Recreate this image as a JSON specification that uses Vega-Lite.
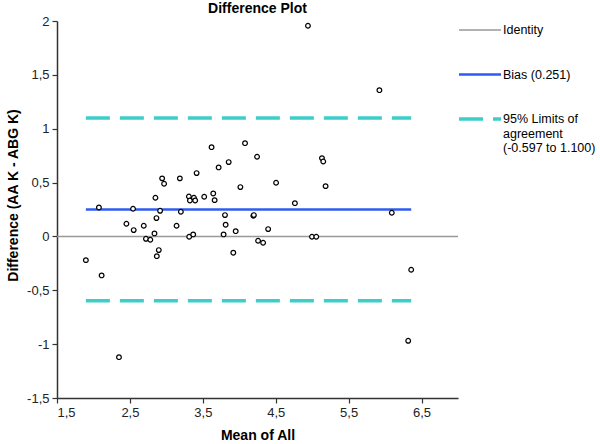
{
  "$schema": "https://vega.github.io/schema/vega-lite/v6.json",
  "width": 401,
  "height": 377,
  "autosize": {"type": "none"},
  "padding": {"left": 57, "top": 21, "right": 142, "bottom": 46},
  "background": "white",
  "title": {"text": "Difference Plot", "fontSize": 14, "fontWeight": "bold", "font": "Liberation Sans", "offset": -3, "dy": 5, "anchor": "middle", "color": "black"},
  "config": {
    "font": "Liberation Sans",
    "view": {"stroke": null},
    "axis": {
      "grid": false,
      "domainColor": "#333333",
      "domainWidth": 1.5,
      "tickColor": "#333333",
      "tickSize": 5,
      "tickWidth": 1.2,
      "labelColor": "#222222",
      "labelFontSize": 13,
      "labelPadding": 3,
      "titleFontSize": 14,
      "titleFontWeight": "bold",
      "titleColor": "black"
    }
  },
  "datasets": {
    "points": [
      {"mean": 2.075, "diff": 0.269},
      {"mean": 1.896, "diff": -0.22},
      {"mean": 2.112, "diff": -0.362},
      {"mean": 2.543, "diff": 0.257},
      {"mean": 2.452, "diff": 0.118},
      {"mean": 2.552, "diff": 0.059},
      {"mean": 2.69, "diff": 0.099},
      {"mean": 2.72, "diff": -0.022},
      {"mean": 2.78, "diff": -0.031},
      {"mean": 2.837, "diff": 0.028},
      {"mean": 2.864, "diff": 0.17},
      {"mean": 2.85, "diff": 0.359},
      {"mean": 2.914, "diff": 0.238},
      {"mean": 2.896, "diff": -0.127},
      {"mean": 2.869, "diff": -0.183},
      {"mean": 2.942, "diff": 0.539},
      {"mean": 2.969, "diff": 0.489},
      {"mean": 3.185, "diff": 0.539},
      {"mean": 3.14, "diff": 0.099},
      {"mean": 3.199, "diff": 0.229},
      {"mean": 3.309, "diff": 0.371},
      {"mean": 3.323, "diff": 0.334},
      {"mean": 3.378, "diff": 0.359},
      {"mean": 3.395, "diff": 0.334},
      {"mean": 3.313, "diff": -0.003},
      {"mean": 3.368, "diff": 0.019},
      {"mean": 3.415, "diff": 0.588},
      {"mean": 3.519, "diff": 0.368},
      {"mean": 3.62, "diff": 0.829},
      {"mean": 3.717, "diff": 0.641},
      {"mean": 3.643, "diff": 0.399},
      {"mean": 3.662, "diff": 0.337},
      {"mean": 3.855, "diff": 0.69},
      {"mean": 4.079, "diff": 0.866},
      {"mean": 4.015, "diff": 0.458},
      {"mean": 3.804, "diff": 0.198},
      {"mean": 3.813, "diff": 0.109},
      {"mean": 3.785, "diff": 0.019},
      {"mean": 3.951, "diff": 0.049},
      {"mean": 3.918, "diff": -0.151},
      {"mean": 4.193, "diff": 0.192},
      {"mean": 4.2, "diff": 0.198},
      {"mean": 4.244, "diff": 0.74},
      {"mean": 4.258, "diff": -0.04},
      {"mean": 4.327, "diff": -0.059},
      {"mean": 4.396, "diff": 0.068},
      {"mean": 4.505, "diff": 0.498},
      {"mean": 4.763, "diff": 0.309},
      {"mean": 5.134, "diff": 0.727},
      {"mean": 5.152, "diff": 0.696},
      {"mean": 5.184, "diff": 0.467},
      {"mean": 4.997, "diff": -0.003},
      {"mean": 5.056, "diff": -0.003},
      {"mean": 6.092, "diff": 0.22},
      {"mean": 6.358, "diff": -0.309},
      {"mean": 4.942, "diff": 1.956},
      {"mean": 5.922, "diff": 1.358},
      {"mean": 2.35, "diff": -1.121},
      {"mean": 6.317, "diff": -0.969}
    ],
    "lines": [
      {"series": "Identity", "x1": 1.5, "x2": 7, "y": 0},
      {"series": "Bias (0.251)", "x1": 1.896, "x2": 6.358, "y": 0.251},
      {"series": "95% Limits of agreement (-0.597 to 1.100)", "x1": 1.896, "x2": 6.358, "y": 1.1},
      {"series": "95% Limits of agreement (-0.597 to 1.100)", "x1": 1.896, "x2": 6.358, "y": -0.597}
    ]
  },
  "layer": [
    {
      "data": {"name": "lines"},
      "mark": {"type": "rule"},
      "encoding": {
        "x": {"field": "x1", "type": "quantitative",
          "scale": {"domain": [1.5, 7], "nice": false, "zero": false},
          "axis": {"values": [1.5, 2.5, 3.5, 4.5, 5.5, 6.5], "labelExpr": "replace(toString(datum.value), '.', ',')", "title": "Mean of All", "titleY": 37, "titleBaseline": "middle"}},
        "x2": {"field": "x2"},
        "y": {"field": "y", "type": "quantitative",
          "scale": {"domain": [-1.5, 2], "nice": false, "zero": false},
          "axis": {"values": [-1.5, -1, -0.5, 0, 0.5, 1, 1.5, 2], "labelExpr": "replace(toString(datum.value), '.', ',')", "title": "Difference (AA K - ABG K)", "titleX": -44, "titleY": 174, "titleBaseline": "middle"}},
        "color": {"field": "series", "type": "nominal",
          "scale": {"domain": ["Identity", "Bias (0.251)", "95% Limits of agreement (-0.597 to 1.100)"], "range": ["#999999", "#2e5cf2", "#3ecec9"]},
          "legend": {"orient": "none", "legendX": 400, "legendY": -13, "title": null, "symbolType": "stroke", "symbolSize": 1764, "labelFontSize": 12.5, "labelColor": "black", "labelOffset": 0, "labelLimit": 300, "padding": 0, "rowPadding": 15,
            "labelExpr": "datum.label == '95% Limits of agreement (-0.597 to 1.100)' ? ['95% Limits of', 'agreement', '(-0.597 to 1.100)'] : datum.label"}},
        "strokeDash": {"field": "series", "type": "nominal",
          "scale": {"domain": ["Identity", "Bias (0.251)", "95% Limits of agreement (-0.597 to 1.100)"], "range": [[1, 0], [1, 0], [24, 10]]}},
        "strokeWidth": {"field": "series", "type": "nominal",
          "scale": {"domain": ["Identity", "Bias (0.251)", "95% Limits of agreement (-0.597 to 1.100)"], "range": [1.5, 3.5, 3.5]}}
      }
    },
    {
      "data": {"name": "points"},
      "mark": {"type": "point", "shape": "circle", "filled": true, "fill": "white", "stroke": "black", "strokeWidth": 1.2, "size": 22, "opacity": 1},
      "encoding": {
        "x": {"field": "mean", "type": "quantitative", "title": "Mean of All"},
        "y": {"field": "diff", "type": "quantitative", "title": "Difference (AA K - ABG K)"}
      }
    }
  ]
}
